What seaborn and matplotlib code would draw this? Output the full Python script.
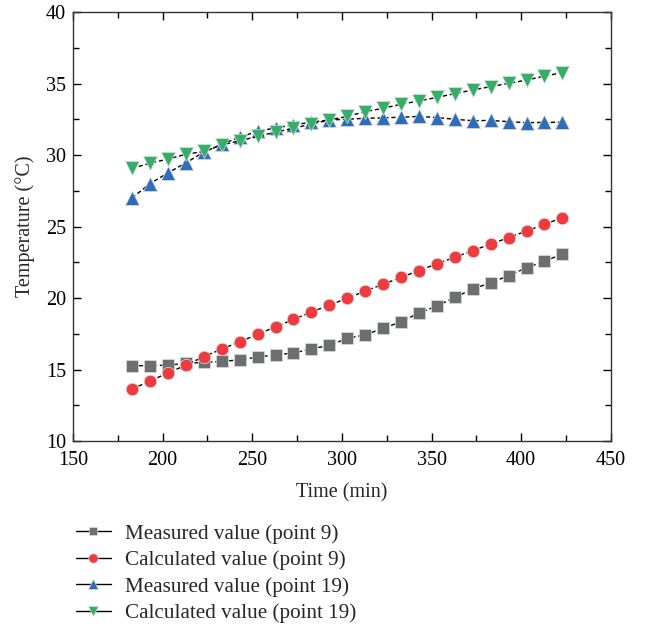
import matplotlib
matplotlib.use("Agg")
import matplotlib.pyplot as plt
import seaborn as sns
import pandas as pd
from matplotlib.ticker import MultipleLocator
from matplotlib.lines import Line2D

# Time axis (min)
time_min = [183, 193, 203, 213, 223, 233, 243, 253, 263, 273, 283, 293, 303,
            313, 323, 333, 343, 353, 363, 373, 383, 393, 403, 413, 423]

# Temperature series (°C)
measured_p9 = [15.27, 15.27, 15.31, 15.43, 15.50, 15.57, 15.68, 15.87, 16.03,
               16.15, 16.45, 16.69, 17.18, 17.43, 17.88, 18.34, 18.95, 19.44,
               20.05, 20.63, 21.07, 21.56, 22.12, 22.57, 23.08]
calculated_p9 = [13.64, 14.20, 14.76, 15.31, 15.90, 16.43, 16.94, 17.46, 17.99,
                 18.51, 19.02, 19.51, 19.98, 20.49, 20.96, 21.45, 21.91, 22.40,
                 22.85, 23.31, 23.78, 24.22, 24.69, 25.15, 25.62]
measured_p19 = [27.0, 28.0, 28.75, 29.45, 30.2, 30.75, 31.25, 31.65, 31.9,
                32.1, 32.3, 32.45, 32.5, 32.57, 32.6, 32.64, 32.7, 32.62,
                32.5, 32.4, 32.42, 32.33, 32.26, 32.28, 32.3]
calculated_p19 = [29.07, 29.42, 29.72, 30.05, 30.25, 30.7, 31.0, 31.3, 31.6,
                  31.87, 32.17, 32.45, 32.7, 33.03, 33.27, 33.55, 33.78, 34.03,
                  34.29, 34.55, 34.78, 35.01, 35.24, 35.52, 35.76]

labels = ["Measured value (point 9)", "Calculated value (point 9)",
          "Measured value (point 19)", "Calculated value (point 19)"]

sns.set_theme(style="ticks")
plt.rcParams["font.family"] = ["Liberation Serif", "DejaVu Serif"]

fig = plt.figure(figsize=(6.45, 6.31), dpi=100)
ax = fig.add_axes([0.113, 0.301, 0.834, 0.680])

series = [
    (measured_p9, "s", "#6d6e71", 8),
    (calculated_p9, "o", "#ee3b40", 9),
    (measured_p19, "^", "#2f6db8", 9.5),
    (calculated_p19, "v", "#35ae6a", 9.5),
]

for (vals, mk, col, ms), lab in zip(series, labels):
    df = pd.DataFrame({"Time": time_min, "Temp": vals})
    sns.lineplot(data=df, x="Time", y="Temp", ax=ax, color="black",
                 linestyle=(0, (3, 2)), linewidth=1.0, marker=mk,
                 markersize=ms, markerfacecolor=col, markeredgecolor="#dddddd",
                 markeredgewidth=0.5, label=lab)

ax.set_xlim(150, 450)
ax.set_ylim(10, 40)
ax.xaxis.set_major_locator(MultipleLocator(50))
ax.xaxis.set_minor_locator(MultipleLocator(25))
ax.yaxis.set_major_locator(MultipleLocator(5))
ax.yaxis.set_minor_locator(MultipleLocator(2.5))
ax.tick_params(which="both", direction="in", top=True, right=True,
               labelsize=14.5, colors="black", width=1.0)
ax.tick_params(which="major", length=6)
ax.tick_params(which="minor", length=4)
ax.tick_params(axis="x", which="major", pad=7)
ax.tick_params(axis="y", which="major", pad=5)
for sp in ax.spines.values():
    sp.set_visible(True)
    sp.set_linewidth(1.0)
    sp.set_color("#333333")

ax.set_xlabel("Time (min)", fontsize=14.5, labelpad=10)
ax.set_ylabel("Temperature (°C)", fontsize=14.5, labelpad=8)

# legend handles: solid short line through each marker
ax.legend_.remove()
handles = [Line2D([], [], color="black", linewidth=1.0, marker=mk,
                  markersize=ms * 0.75, markerfacecolor=col,
                  markeredgecolor="#dddddd", markeredgewidth=0.5)
           for (_, mk, col, ms) in series]
fig.legend(handles, labels, loc="upper left", bbox_to_anchor=(0.104, 0.183),
           frameon=False, fontsize=15.2, handlelength=1.7, handletextpad=0.65,
           labelspacing=0.32, borderaxespad=0)

fig.savefig("out.png", dpi=100)
